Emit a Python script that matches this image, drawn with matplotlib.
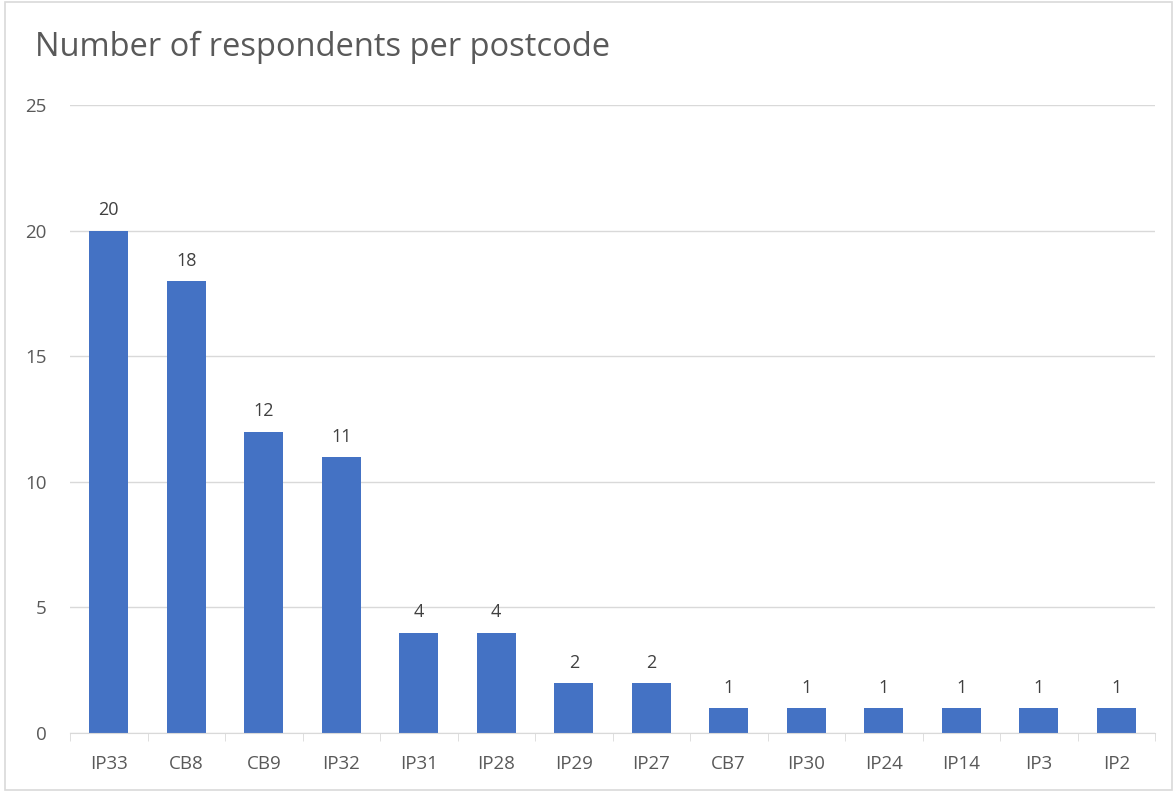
import matplotlib.pyplot as plt
import numpy as np

# data
postcodes = ['IP33', 'CB8', 'CB9', 'IP32', 'IP31', 'IP28', 'IP29', 'IP27',
             'CB7', 'IP30', 'IP24', 'IP14', 'IP3', 'IP2']
respondents = [20, 18, 12, 11, 4, 4, 2, 2, 1, 1, 1, 1, 1, 1]
y_ticks = [0, 5, 10, 15, 20, 25]

plt.rcParams['font.family'] = ['Open Sans', 'DejaVu Sans']
grey = '#595959'

fig = plt.figure(figsize=(11.73, 7.92), dpi=100)
ax = fig.add_axes([70 / 1173, 1 - 733 / 792, 1085 / 1173, (733 - 105) / 792])

x = np.arange(len(postcodes))
bars = ax.bar(x, respondents, width=0.5, color='#4472C4', zorder=3)

for b, v in zip(bars, respondents):
    ax.annotate(str(v), (b.get_x() + b.get_width() / 2, v),
                textcoords='offset points', xytext=(0, 8),
                ha='center', va='bottom', fontsize=13, color='#404040')

ax.set_xlim(-0.5, len(postcodes) - 0.5)
ax.set_ylim(0, 25)
ax.set_yticks(y_ticks)
ax.grid(axis='y', color='#D9D9D9', linewidth=1, zorder=0)

ax.set_xticks(x)
ax.set_xticklabels(postcodes)
ax.set_xticks(np.arange(len(postcodes) + 1) - 0.5, minor=True)
ax.tick_params(axis='x', which='major', length=0, pad=16, labelsize=13.5, labelcolor=grey)
ax.tick_params(axis='x', which='minor', length=6, color='#D9D9D9')
ax.tick_params(axis='y', length=0, pad=17, labelsize=13.5, labelcolor=grey)

for side in ['top', 'right', 'left']:
    ax.spines[side].set_visible(False)
ax.spines['bottom'].set_color('#D9D9D9')
ax.spines['bottom'].set_zorder(4)

fig.text(35 / 1173, 1 - 47 / 792, 'Number of respondents per postcode',
         fontsize=23.5, color=grey, ha='left', va='center')

# chart border
fig.patches.append(plt.Rectangle((0.004, 0.002), 0.995, 0.995, transform=fig.transFigure,
                                 fill=False, edgecolor='#D9D9D9', linewidth=1.2))

plt.savefig('out.png', dpi=100)
